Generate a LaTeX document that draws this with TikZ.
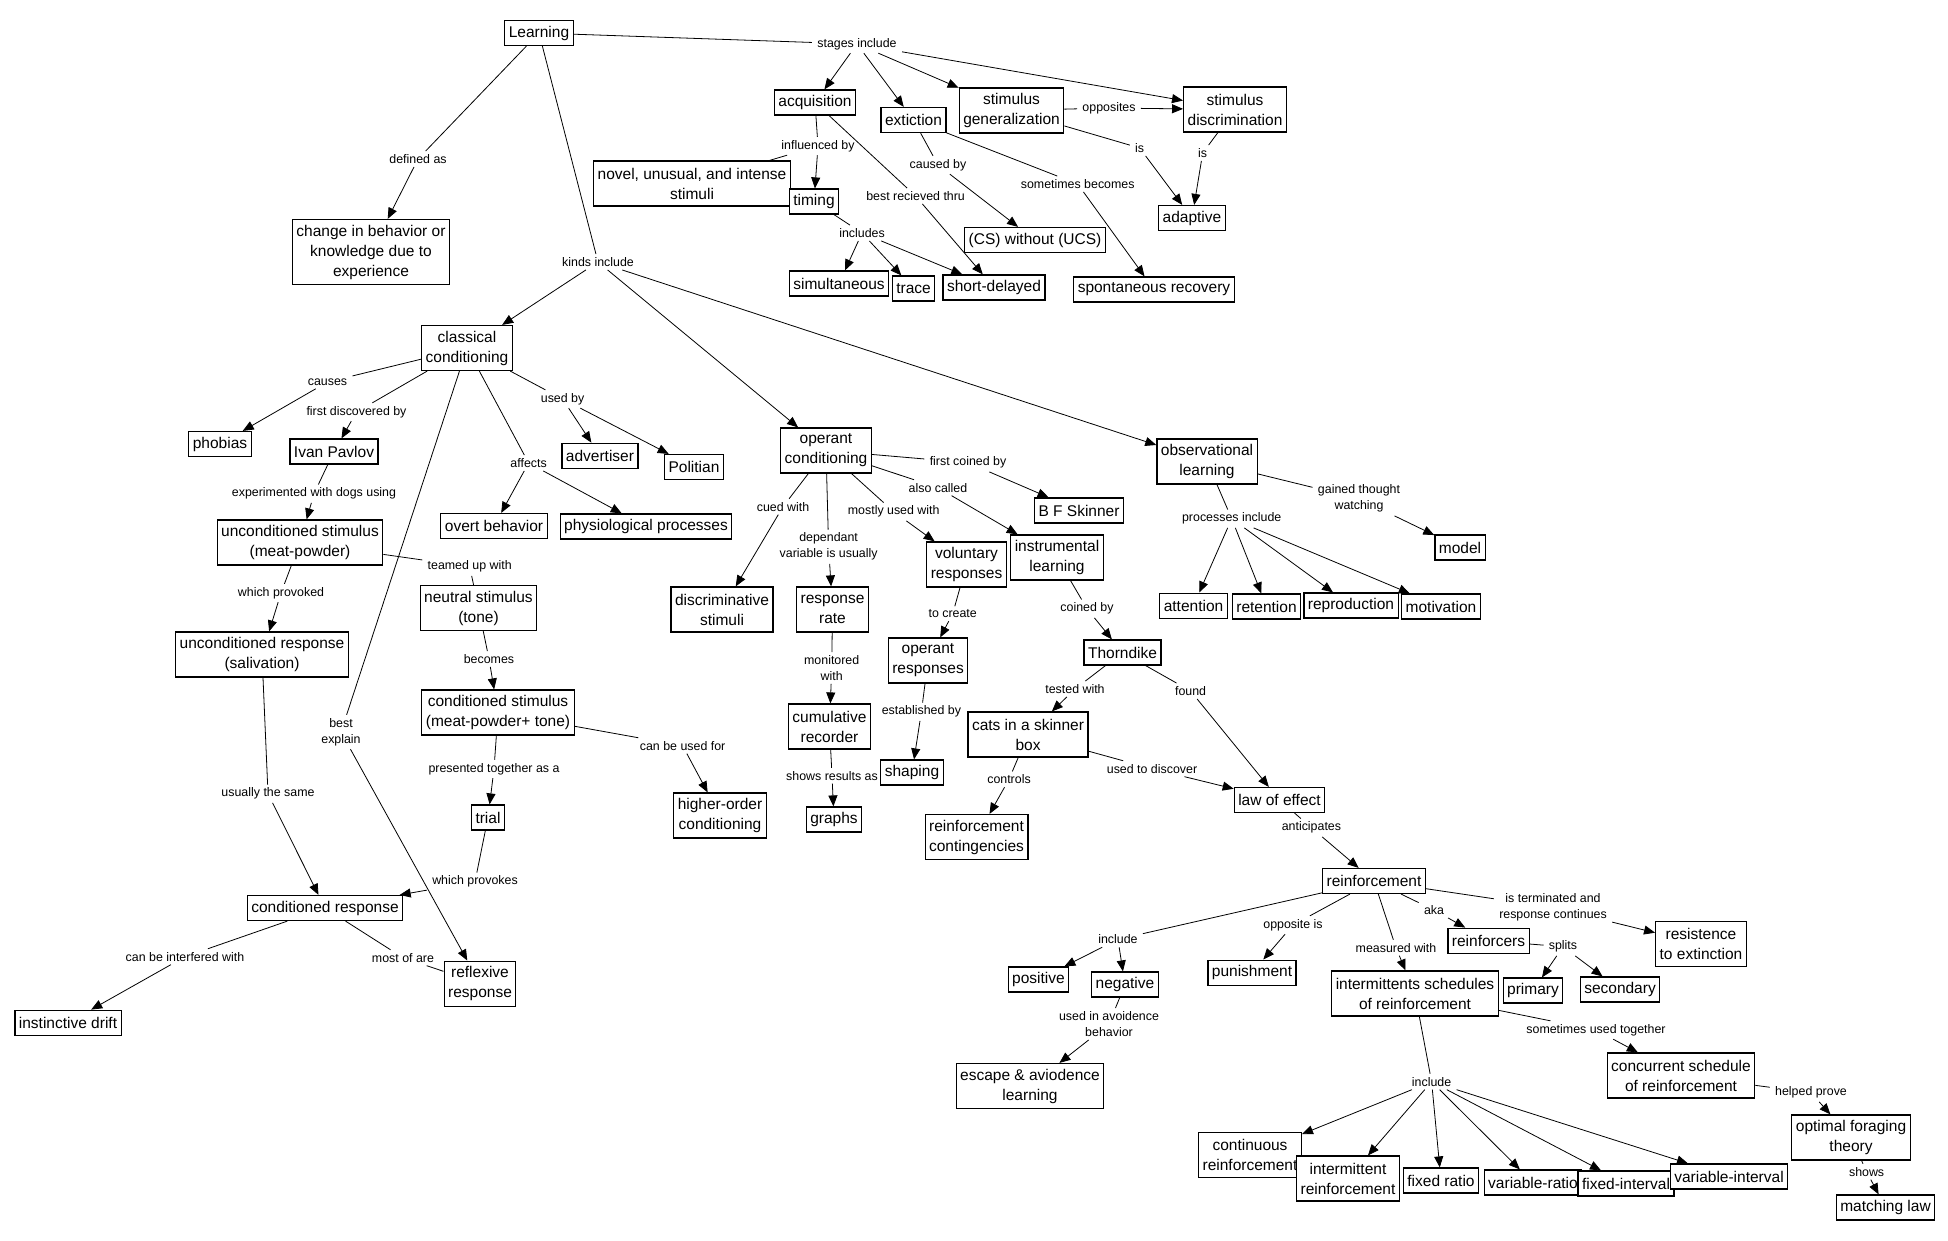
\documentclass[tikz,border=0pt]{standalone}
\usepackage{fontspec}
\setmainfont{Liberation Sans}
\usetikzlibrary{arrows.meta}

\begin{document}
\begin{tikzpicture}[x=1pt, y=-1pt, line width=0.8pt,
  concept/.style={draw, line width=1.2pt, fill=white, align=center, inner xsep=4pt, inner ysep=2pt,
    minimum height=25pt, font=\fontsize{15.5}{20}\selectfont},
  lines2/.style={minimum height=45pt},
  lines3/.style={minimum height=65pt},
  link/.style={fill=white, align=center, inner xsep=5pt, inner ysep=3pt, font=\fontsize{12.4}{16}\selectfont},
  arr/.style={-{Triangle[length=11pt,width=9pt]}}]

\useasboundingbox (0,0) rectangle (1948,1240);
\fill[white] (0,0) rectangle (1948,1240);

% top
\node[concept] (learning) at (539,33) {Learning};
\node[link] (ldefined) at (418,159) {defined as};
\node[concept,lines3] (changebeh) at (371,252) {change in behavior or\\knowledge due to\\experience};
\node[link] (lkinds) at (598,262) {kinds include};
\node[link] (lstages) at (857,44) {stages include};

% stages
\node[concept] (acquis) at (815,102.5) {acquisition};
\node[concept] (extinct) at (913.5,120) {extiction};
\node[concept,lines2] (stimgen) at (1011.5,110.5) {stimulus\\generalization};
\node[concept,lines2] (stimdis) at (1235,109.5) {stimulus\\discrimination};
\node[link] (lopp) at (1109,108) {opposites};
\node[link] (lis1) at (1139.7,148) {is};
\node[link] (lis2) at (1202.7,153) {is};
\node[concept] (adaptive) at (1192,218) {adaptive};
\node[link] (linfl) at (818,146) {influenced by};
\node[concept,lines2] (novel) at (692,183.5) {novel, unusual, and intense\\stimuli};
\node[concept] (timing) at (814,201.5) {timing};
\node[link] (lbest) at (915.6,196) {best recieved thru};
\node[link] (lcaused) at (938,165) {caused by};
\node[link] (lsometimes) at (1077.7,184) {sometimes becomes};
\node[concept] (cswithout) at (1035,240) {(CS) without (UCS)};
\node[link] (lincludes) at (862,233) {includes};
\node[concept] (simult) at (839,283.5) {simultaneous};
\node[concept] (trace) at (913.5,288.5) {trace};
\node[concept] (shortdel) at (994,287.5) {short-delayed};
\node[concept] (spontrec) at (1154,289.5) {spontaneous recovery};

% classical conditioning
\node[concept,lines2] (classical) at (467,348) {classical\\conditioning};
\node[link] (lcauses) at (327.5,382) {causes};
\node[link] (lfirstdisc) at (356.5,412) {first discovered by};
\node[link] (lusedby) at (562.6,399) {used by};
\node[link] (laffects) at (528.6,463) {affects};
\node[concept] (phobias) at (220,444) {phobias};
\node[concept] (pavlov) at (334,451.5) {Ivan Pavlov};
\node[concept] (advert) at (600,455.7) {advertiser};
\node[concept] (politian) at (694,467) {Politian};
\node[concept] (overt) at (494,526) {overt behavior};
\node[concept] (physio) at (646,526.5) {physiological processes};
\node[link] (lexper) at (314,493.7) {experimented with dogs using};
\node[concept,lines2] (ucs) at (300,542.5) {unconditioned stimulus\\(meat-powder)};
\node[link] (lprovoked) at (281,593) {which provoked};
\node[concept,lines2] (ucr) at (262,654.5) {unconditioned response\\(salivation)};
\node[link] (lteamed) at (469.7,566.7) {teamed up with};
\node[concept,lines2] (neutral) at (478.5,608) {neutral stimulus\\(tone)};
\node[link] (lbecomes) at (489,659) {becomes};
\node[concept,lines2] (cstim) at (498,712.5) {conditioned stimulus\\(meat-powder+ tone)};
\node[link] (lexplain) at (341,732) {best\\explain};
\node[link] (lpresented) at (494,769) {presented together as a};
\node[concept] (trial) at (488,817.5) {trial};
\node[link] (lusedfor) at (682.6,745.7) {can be used for};
\node[concept,lines2] (higher) at (720,815.5) {higher-order\\conditioning};
\node[link] (lsame) at (268,793.7) {usually the same};
\node[link] (lprovokes) at (475,881.7) {which provokes};
\node[concept] (cresp) at (325,908) {conditioned response};
\node[link] (linterf) at (185,956.7) {can be interfered with};
\node[link] (lmostof) at (403,957.7) {most of are};
\node[concept,lines2] (reflex) at (480,983.6) {reflexive\\response};
\node[concept] (drift) at (68,1022.7) {instinctive drift};

% operant conditioning
\node[concept,lines2] (operant) at (826,450.5) {operant\\conditioning};
\node[link] (lcoined1) at (968,462.7) {first coined by};
\node[link] (lalso) at (938,487.7) {also called};
\node[concept] (skinner) at (1079,510.5) {B F Skinner};
\node[link] (lcued) at (783,506.7) {cued with};
\node[link] (ldepend) at (828.6,546.7) {dependant\\variable is usually};
\node[link] (lmostly) at (893.7,511.7) {mostly used with};
\node[concept,lines2] (discstim) at (722,609.5) {discriminative\\stimuli};
\node[concept,lines2] (resprate) at (832.5,609.5) {response\\rate};
\node[concept,lines2] (volresp) at (966.5,564.5) {voluntary\\responses};
\node[concept,lines2] (instr) at (1057,557.5) {instrumental\\learning};
\node[link] (lcreate) at (952.7,613.7) {to create};
\node[link] (lcoined2) at (1087,608.7) {coined by};
\node[link] (lmonitor) at (831.7,668) {monitored\\with};
\node[concept,lines2] (opresp) at (928,660.5) {operant\\responses};
\node[concept] (thorndike) at (1122.5,652.5) {Thorndike};
\node[link] (ltested) at (1075,689) {tested with};
\node[link] (lfound) at (1190.6,691) {found};
\node[concept,lines2] (cumrec) at (829.5,726.5) {cumulative\\recorder};
\node[link] (lestab) at (921.4,711.7) {established by};
\node[concept,lines2] (cats) at (1028,734.5) {cats in a skinner\\box};
\node[link] (lshows1) at (832,775.7) {shows results as};
\node[concept] (shaping) at (912,772.5) {shaping};
\node[link] (ldiscover) at (1152,768.7) {used to discover};
\node[link] (lcontrols) at (1009,779.3) {controls};
\node[concept] (lawofeffect) at (1279.5,800) {law of effect};
\node[concept] (graphs) at (834,819.5) {graphs};
\node[concept,lines2] (contin) at (976.5,837) {reinforcement\\contingencies};

% observational learning
\node[concept,lines2] (observ) at (1207,461.5) {observational\\learning};
\node[link] (lgained) at (1359,498.7) {gained thought\\watching};
\node[concept] (model) at (1460,547.5) {model};
\node[link] (lprocess) at (1231.7,518.7) {processes include};
\node[concept] (attention) at (1193.5,605.6) {attention};
\node[concept] (retention) at (1266.5,606.5) {retention};
\node[concept] (reproduction) at (1351,605.5) {reproduction};
\node[concept] (motivation) at (1441,606.5) {motivation};

% reinforcement
\node[link] (lanticip) at (1311.4,827.7) {anticipates};
\node[concept] (reinf) at (1374,881) {reinforcement};
\node[link] (linclude1) at (1117.9,939.3) {include};
\node[link] (loppis) at (1293,925) {opposite is};
\node[link] (lmeasured) at (1396,947.7) {measured with};
\node[link] (laka) at (1434,910) {aka};
\node[link] (lterminated) at (1553,907.5) {is terminated and\\response continues};
\node[concept] (positive) at (1038.5,979.5) {positive};
\node[concept] (negative) at (1125,984.5) {negative};
\node[concept] (punish) at (1252,972.6) {punishment};
\node[concept] (reinforcers) at (1488.5,940.7) {reinforcers};
\node[link] (lsplits) at (1563,946.7) {splits};
\node[concept,lines2] (resist) at (1701,944) {resistence\\to extinction};
\node[concept] (primary) at (1533,990.5) {primary};
\node[concept] (secondary) at (1620,989.5) {secondary};
\node[concept,lines2] (isr) at (1415,993.5) {intermittents schedules\\of reinforcement};
\node[link] (lavoid) at (1109,1024) {used in avoidence\\behavior};
\node[concept,lines2] (escape) at (1030,1086) {escape \& aviodence\\learning};
\node[link] (ltogether) at (1596,1030) {sometimes used together};
\node[concept,lines2] (concurrent) at (1681,1075.5) {concurrent schedule\\of reinforcement};
\node[link] (linclude2) at (1431.6,1081.7) {include};
\node[link] (lhelped) at (1811,1092.7) {helped prove};
\node[concept,lines2] (oft) at (1851,1137.5) {optimal foraging\\theory};
\node[link] (lshows2) at (1866.6,1171.7) {shows};
\node[concept] (matching) at (1885.5,1207.5) {matching law};
\node[concept,lines2] (continuous) at (1250,1155) {continuous\\reinforcement};
\node[concept,lines2] (intermit) at (1348,1178.5) {intermittent\\reinforcement};
\node[concept] (fixedratio) at (1441,1180.5) {fixed ratio};
\node[concept] (varratio) at (1533,1182.5) {variable-ratio};
\node[concept] (fixedint) at (1626,1183.5) {fixed-interval};
\node[concept] (varint) at (1729,1176.5) {variable-interval};

% links: top
\draw (learning) -- (ldefined);
\draw[arr] (ldefined) -- (changebeh);
\draw (learning) -- (lkinds);
\draw[arr] (lkinds) -- (classical);
\draw[arr] (lkinds) -- (operant);
\draw[arr] (lkinds) -- (observ);
\draw (learning) -- (lstages);
\draw[arr] (lstages) -- (acquis);
\draw[arr] (lstages) -- (extinct);
\draw[arr] (lstages) -- (stimgen);
\draw[arr] (lstages) -- (stimdis);
\draw (stimgen) -- (lopp);
\draw[arr] (lopp) -- (stimdis);
\draw (stimgen) -- (lis1);
\draw[arr] (lis1) -- (adaptive);
\draw (stimdis) -- (lis2);
\draw[arr] (lis2) -- (adaptive);
\draw (acquis) -- (linfl);
\draw[arr] (linfl) -- (timing);
\draw (linfl) -- (novel);
\draw (acquis) -- (lbest);
\draw[arr] (lbest) -- (shortdel);
\draw (extinct) -- (lcaused);
\draw[arr] (lcaused) -- (cswithout);
\draw (extinct) -- (lsometimes);
\draw[arr] (lsometimes) -- (spontrec);
\draw (timing) -- (lincludes);
\draw[arr] (lincludes) -- (simult);
\draw[arr] (lincludes) -- (trace);
\draw[arr] (lincludes) -- (shortdel);

% links: classical
\draw (classical) -- (lcauses);
\draw[arr] (lcauses) -- (phobias);
\draw (classical) -- (lfirstdisc);
\draw[arr] (lfirstdisc) -- (pavlov);
\draw (classical) -- (lusedby);
\draw[arr] (lusedby) -- (advert);
\draw[arr] (lusedby) -- (politian);
\draw (classical) -- (laffects);
\draw[arr] (laffects) -- (overt);
\draw[arr] (laffects) -- (physio);
\draw (classical) -- (lexplain);
\draw[arr] (lexplain) -- (reflex);
\draw (pavlov) -- (lexper);
\draw[arr] (lexper) -- (ucs);
\draw (ucs) -- (lprovoked);
\draw[arr] (lprovoked) -- (ucr);
\draw (ucs) -- (lteamed);
\draw (lteamed) -- (neutral);
\draw (ucr) -- (lsame);
\draw[arr] (lsame) -- (cresp);
\draw (neutral) -- (lbecomes);
\draw[arr] (lbecomes) -- (cstim);
\draw (cstim) -- (lpresented);
\draw[arr] (lpresented) -- (trial);
\draw (cstim) -- (lusedfor);
\draw[arr] (lusedfor) -- (higher);
\draw (trial) -- (lprovokes);
\draw[arr] (lprovokes) -- (cresp);
\draw (cresp) -- (linterf);
\draw[arr] (linterf) -- (drift);
\draw (cresp) -- (lmostof);
\draw (lmostof) -- (reflex);

% links: operant
\draw (operant) -- (lcoined1);
\draw[arr] (lcoined1) -- (skinner);
\draw (operant) -- (lalso);
\draw[arr] (lalso) -- (instr);
\draw (operant) -- (lcued);
\draw[arr] (lcued) -- (discstim);
\draw (operant) -- (ldepend);
\draw[arr] (ldepend) -- (resprate);
\draw (operant) -- (lmostly);
\draw[arr] (lmostly) -- (volresp);
\draw (resprate) -- (lmonitor);
\draw[arr] (lmonitor) -- (cumrec);
\draw (cumrec) -- (lshows1);
\draw[arr] (lshows1) -- (graphs);
\draw (volresp) -- (lcreate);
\draw[arr] (lcreate) -- (opresp);
\draw (opresp) -- (lestab);
\draw[arr] (lestab) -- (shaping);
\draw (instr) -- (lcoined2);
\draw[arr] (lcoined2) -- (thorndike);
\draw (thorndike) -- (ltested);
\draw[arr] (ltested) -- (cats);
\draw (thorndike) -- (lfound);
\draw[arr] (lfound) -- (lawofeffect);
\draw (cats) -- (ldiscover);
\draw[arr] (ldiscover) -- (lawofeffect);
\draw (cats) -- (lcontrols);
\draw[arr] (lcontrols) -- (contin);
\draw (lawofeffect) -- (lanticip);
\draw[arr] (lanticip) -- (reinf);

% links: observational
\draw (observ) -- (lgained);
\draw[arr] (lgained) -- (model);
\draw (observ) -- (lprocess);
\draw[arr] (lprocess) -- (attention);
\draw[arr] (lprocess) -- (retention);
\draw[arr] (lprocess) -- (reproduction);
\draw[arr] (lprocess) -- (motivation);

% links: reinforcement
\draw (reinf) -- (linclude1);
\draw[arr] (linclude1) -- (positive);
\draw[arr] (linclude1) -- (negative);
\draw (reinf) -- (loppis);
\draw[arr] (loppis) -- (punish);
\draw (reinf) -- (lmeasured);
\draw[arr] (lmeasured) -- (isr);
\draw (reinf) -- (laka);
\draw[arr] (laka) -- (reinforcers);
\draw (reinf) -- (lterminated);
\draw[arr] (lterminated) -- (resist);
\draw (reinforcers) -- (lsplits);
\draw[arr] (lsplits) -- (primary);
\draw[arr] (lsplits) -- (secondary);
\draw (negative) -- (lavoid);
\draw[arr] (lavoid) -- (escape);
\draw (isr) -- (linclude2);
\draw[arr] (linclude2) -- (continuous);
\draw[arr] (linclude2) -- (intermit);
\draw[arr] (linclude2) -- (fixedratio);
\draw[arr] (linclude2) -- (varratio);
\draw[arr] (linclude2) -- (fixedint);
\draw[arr] (linclude2) -- (varint);
\draw (isr) -- (ltogether);
\draw[arr] (ltogether) -- (concurrent);
\draw (concurrent) -- (lhelped);
\draw[arr] (lhelped) -- (oft);
\draw (oft) -- (lshows2);
\draw[arr] (lshows2) -- (matching);

\end{tikzpicture}
\end{document}
